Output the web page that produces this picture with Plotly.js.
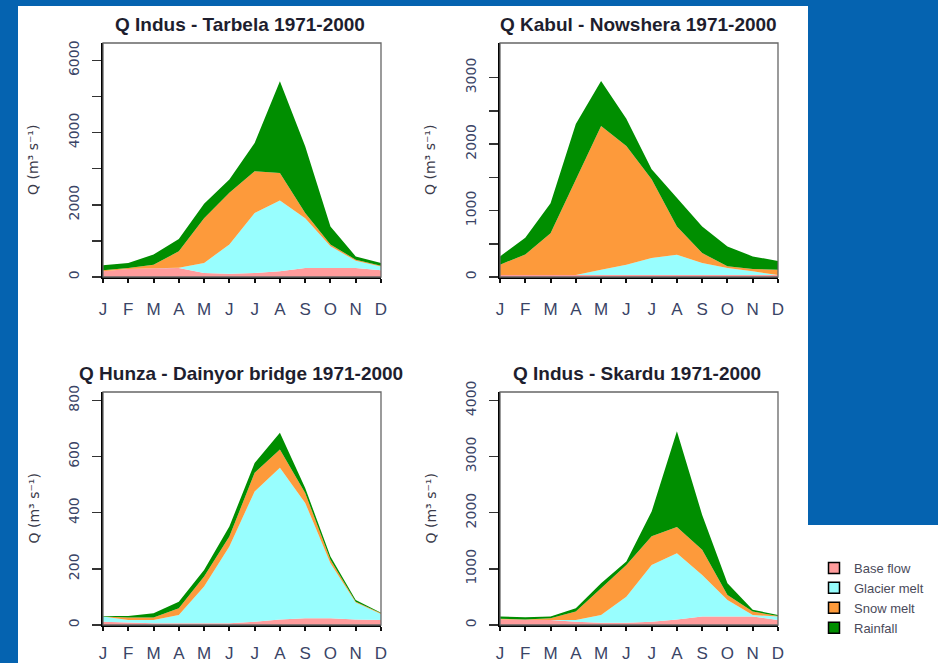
<!DOCTYPE html>
<html>
<head>
<meta charset="utf-8">
<script src="https://cdn.plot.ly/plotly-3.0.1.min.js"></script>
<style>html,body{margin:0;padding:0;background:#0563b0;}#chart{width:938px;height:663px;}</style>
</head>
<body>
<div id="chart"></div>
<script>
// ---------- data ----------
const months = [1,2,3,4,5,6,7,8,9,10,11,12];
const monthLabels = ['J','F','M','A','M','J','J','A','S','O','N','D'];
const seriesNames = ['Base flow','Glacier melt','Snow melt','Rainfall'];
const yTitle = 'Q (m³ s⁻¹)';

const titles = ['Q Indus - Tarbela 1971-2000','Q Kabul - Nowshera 1971-2000',
                'Q Hunza - Dainyor bridge 1971-2000','Q Indus - Skardu 1971-2000'];

// Indus at Tarbela (m3/s)
const tarbelaBase    = [160,220,240,250,110, 90, 110, 160, 250,250,250,185];
const tarbelaGlacier = [  0,  5,  5,  5,280,810,1660,1960,1380,600,200,105];
const tarbelaSnow    = [ 25, 25, 95,455,1240,1430,1160,760,140, 50, 30, 20];
const tarbelaRain    = [138,138,280,340,400,370, 780,2540,1850,500, 90, 80];

// Kabul at Nowshera
const kabulBase    = [ 30, 30, 30,  30,  30,  30,  30,  30, 30, 30, 30, 30];
const kabulGlacier = [  0,  0,  0,   0,  80, 155, 255, 305,180,105, 55,  0];
const kabulSnow    = [155,310,630,1440,2160,1785,1185, 425,150, 25, 35, 80];
const kabulRain    = [125,250,450, 830, 680, 410, 150, 430,400,300,190,130];

// Hunza at Dainyor bridge
const hunzaBase    = [12, 8, 6, 6,  6,  6, 12, 20, 24, 24,20,18];
const hunzaGlacier = [18,10,12,30,131,274,464,540,411,196,60,21];
const hunzaSnow    = [ 0, 9, 9,24, 36, 35, 66, 65, 35, 12, 3, 3];
const hunzaRain    = [ 2, 5,15,23, 23, 36, 35, 60, 18, 12, 6, 2];

// Indus at Skardu
const skarduBase    = [100,90,90, 60, 40, 40,  60, 100,150,150,150,90];
const skarduGlacier = [  0, 0, 0, 30,140,465,1010,1180,740,295, 30,60];
const skarduSnow    = [ 10,10,30,150,475,565, 510, 465,450, 90, 60,10];
const skarduRain    = [ 40,37,30, 60, 90, 60, 440,1705,620,210, 30,20];

// y tick values (labelled) and minor tick values (unlabelled)
const tarbelaTicks = [0,2000,4000,6000];
const tarbelaMinor = [1000,3000,5000];
const kabulTicks = [0,1000,2000,3000];
const kabulMinor = [500,1500,2500];
const hunzaTicks = [0,200,400,600,800];
const hunzaMinor = [];
const skarduTicks = [0,1000,2000,3000,4000];
const skarduMinor = [];

// ---------- style ----------
const W = 938, H = 663;
const colors = ['#ff9c9c','#98fefe','#fd9a3b','#008e00'];
const blue = '#0563b0';
const px = v => v / W;
const py = v => 1 - v / H;

const panels = [
  {series:[tarbelaBase,tarbelaGlacier,tarbelaSnow,tarbelaRain], ticks:tarbelaTicks, minor:tarbelaMinor, range:[0,6480], box:[103,381,43,277], title:[240,25], xstand:12},
  {series:[kabulBase,kabulGlacier,kabulSnow,kabulRain], ticks:kabulTicks, minor:kabulMinor, range:[0,3520], box:[500,778,43,277], title:[638,25], xstand:12},
  {series:[hunzaBase,hunzaGlacier,hunzaSnow,hunzaRain], ticks:hunzaTicks, minor:hunzaMinor, range:[0,830], box:[103,381,392,625], title:[241,373], xstand:8},
  {series:[skarduBase,skarduGlacier,skarduSnow,skarduRain], ticks:skarduTicks, minor:skarduMinor, range:[0,4150], box:[500,778,392,625], title:[637,373], xstand:8}
];

const traces = [];
const layout = {
  width: W, height: H,
  margin: {l:0,r:0,t:0,b:0},
  paper_bgcolor: blue,
  plot_bgcolor: 'rgba(0,0,0,0)',
  showlegend: true,
  legend: {x: px(814), y: py(553), xanchor:'left', yanchor:'top', traceorder:'normal',
           bgcolor:'rgba(0,0,0,0)', font:{family:'Liberation Sans, Arial, sans-serif', size:13, color:'#4a4a5a'},
           tracegroupgap:0, itemwidth:30},
  shapes: [
    {type:'rect', xref:'paper', yref:'paper', x0:px(18), x1:px(808), y0:0, y1:py(6), fillcolor:'white', line:{width:0}, layer:'below'},
    {type:'rect', xref:'paper', yref:'paper', x0:px(808), x1:1, y0:0, y1:py(525), fillcolor:'white', line:{width:0}, layer:'below'}
  ],
  annotations: []
};

const tickFontY = {family:'DejaVu Sans, sans-serif', size:14, color:'#3a4466'};
const tickFontX = {family:'Liberation Sans Narrow, Arial Narrow, sans-serif', size:17, color:'#3a4466'};

panels.forEach((p, i) => {
  const n = i + 1;
  const xa = n === 1 ? 'x' : 'x' + n;
  const ya = n === 1 ? 'y' : 'y' + n;
  p.series.forEach((vals, k) => {
    traces.push({
      type:'scatter', x: months, y: vals, xaxis: xa, yaxis: ya,
      stackgroup: 'p' + n, mode:'lines', line:{width:0, color:colors[k]},
      fillcolor: colors[k], showlegend:false, hoverinfo:'skip'
    });
  });
  const [l, r, t, b] = p.box;
  layout['xaxis' + (n === 1 ? '' : n)] = {
    domain:[px(l), px(r)], anchor: ya, range:[1,12],
    tickmode:'array', tickvals: months, ticktext: monthLabels,
    ticks:'outside', ticklen:4, tickwidth:2, tickcolor:'#111',
    showline:true, linecolor:'#000', linewidth:2,
    showgrid:false, zeroline:false, tickfont: tickFontX, ticklabelstandoff: p.xstand
  };
  const yax = {
    domain:[py(b), py(t)], anchor: xa, range: p.range,
    tickmode:'array', tickvals: p.ticks, ticktext: p.ticks.map(String),
    ticks:'outside', ticklen:9, tickwidth:1.5, tickcolor:'#333',
    showline:true, linecolor:'#000', linewidth:2, tickangle:-90,
    showgrid:false, zeroline:false, tickfont: tickFontY, ticklabelstandoff: 7
  };
  if (p.minor.length) {
    yax.minor = {tickmode:'array', tickvals: p.minor, ticks:'outside', ticklen:9, tickwidth:1.5, tickcolor:'#333', showgrid:false};
  }
  layout['yaxis' + (n === 1 ? '' : n)] = yax;
  layout.shapes.push({type:'rect', xref: xa + ' domain', yref: ya + ' domain', x0:0, x1:1, y0:0, y1:1,
    line:{color:'#666', width:1.3}, layer:'above'});
  layout.annotations.push({xref:'paper', yref:'paper', x:px(p.title[0]), y:py(p.title[1]),
    xanchor:'center', yanchor:'middle', showarrow:false, text: titles[i],
    font:{family:'Liberation Sans, Arial, sans-serif', size:19, color:'#1e1e2e', weight:'bold'}});
  layout.annotations.push({xref:'paper', yref:'paper', x:px(l - 70), y:py((t + b) / 2),
    xanchor:'center', yanchor:'middle', showarrow:false, textangle:-90,
    text: yTitle,
    font:{family:'DejaVu Sans, sans-serif', size:14, color:'#3a3a4a'}});
});

// legend entries
seriesNames.forEach((name, k) => {
  traces.push({type:'scatter', x:[null], y:[null], xaxis:'x4', yaxis:'y4', mode:'markers', name: name,
    marker:{symbol:'square', size:11, color:colors[k], line:{color:'#000', width:1.5}}, showlegend:true});
});

Plotly.newPlot('chart', traces, layout, {staticPlot:true, displayModeBar:false});
</script>
</body>
</html>
